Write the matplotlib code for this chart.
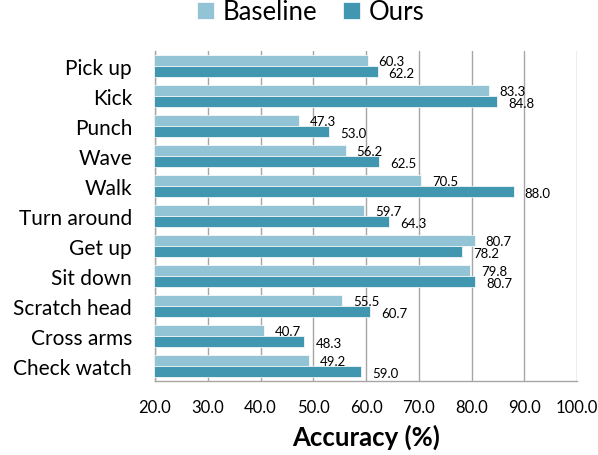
import matplotlib.pyplot as plt
import numpy as np

actions = ["Pick up", "Kick", "Punch", "Wave", "Walk", "Turn around",
           "Get up", "Sit down", "Scratch head", "Cross arms", "Check watch"]
baseline = [60.3, 83.3, 47.3, 56.2, 70.5, 59.7, 80.7, 79.8, 55.5, 40.7, 49.2]
ours = [62.2, 84.8, 53.0, 62.5, 88.0, 64.3, 78.2, 80.7, 60.7, 48.3, 59.0]
xticks = [20, 30, 40, 50, 60, 70, 80, 90, 100]

plt.rcParams['font.family'] = ['Lato', 'DejaVu Sans']

c_base = '#93c4d5'
c_ours = '#4297b0'

fig = plt.figure(figsize=(5.98, 4.56), dpi=100)
ax = fig.add_axes([0.2592, 0.1623, 0.7057, 0.7237])

y = np.arange(len(actions))
h = 0.37
b1 = ax.barh(y - h / 2, baseline, height=h, color=c_base, edgecolor='white', linewidth=0.5, label='Baseline', zorder=3)
b2 = ax.barh(y + h / 2, ours, height=h, color=c_ours, edgecolor='white', linewidth=0.5, label='Ours', zorder=3)

for yi, v in zip(y, baseline):
    ax.text(v + 2.0, yi - h / 2 + 0.03, f"{v:.1f}", va='center', ha='left', fontsize=9.5, zorder=4)
for yi, v in zip(y, ours):
    ax.text(v + 2.1, yi + h / 2 + 0.04, f"{v:.1f}", va='center', ha='left', fontsize=9.5, zorder=4)

ax.set_xlim(20, 100)
ax.set_ylim(len(actions) - 0.5, -0.5)
ax.set_xticks(xticks)
ax.set_xticklabels([f"{t:.1f}" for t in xticks], fontsize=12)
ax.set_yticks(y)
ax.set_yticklabels(actions, fontsize=15)
ax.tick_params(axis='both', length=0)
ax.tick_params(axis='x', pad=13)
ax.tick_params(axis='y', pad=16.5)
ax.grid(axis='x', color='#a6a6a6', linewidth=1, zorder=0)
for s in ['top', 'right']:
    ax.spines[s].set_visible(False)
for s in ['left', 'bottom']:
    ax.spines[s].set_color('#a6a6a6')
    ax.spines[s].set_linewidth(1)

ax.set_xlabel("Accuracy (%)", fontsize=18.5, fontweight='bold', labelpad=6)

fig.legend(handles=[b1, b2], loc='center', bbox_to_anchor=(311 / 598, 1 - 13 / 456), ncol=2,
           frameon=False, fontsize=18.5, handlelength=0.65, handleheight=0.65,
           handletextpad=0.35, columnspacing=1.0, borderpad=0)

fig.savefig("out.png", dpi=100)
